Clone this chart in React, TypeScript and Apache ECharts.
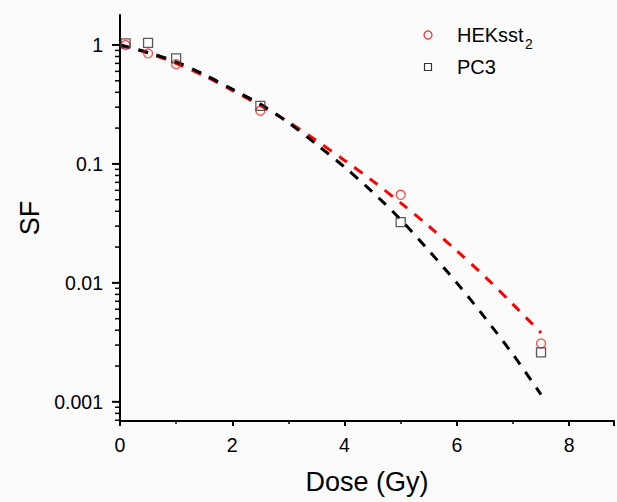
import React, { useEffect, useRef } from "react";
import * as echarts from "echarts";

// Measured survival fractions
const doseLevels = [0.1, 0.5, 1, 2.5, 5, 7.5];
const hekSF = [1.0, 0.85, 0.69, 0.28, 0.055, 0.0031];
const pc3SF = [1.03, 1.04, 0.77, 0.307, 0.0324, 0.0026];

// Fitted curves
const fitDose = [0, 0.5, 1, 1.5, 2, 2.5, 3, 3.5, 4, 4.5, 5, 5.5, 6, 6.5, 7, 7.5];
const hekFit = [1.0, 0.855, 0.7, 0.55, 0.415, 0.31, 0.225, 0.157, 0.107, 0.072, 0.047, 0.03, 0.0186, 0.0113, 0.0066, 0.0038];
const pc3Fit = [1.0, 0.865, 0.72, 0.565, 0.425, 0.318, 0.222, 0.146, 0.094, 0.058, 0.034, 0.0187, 0.01, 0.0051, 0.0025, 0.00115];

// Axis ticks
const xTickLabels = ["0", "2", "4", "6", "8"];
const yDecades = [0.001, 0.01, 0.1, 1];
const yTickLabels = ["0.001", "0.01", "0.1", "1"];
const yMinorMultipliers = [2, 3, 4, 5, 6, 7, 8, 9];

// Legend
const legendNames = ["HEKsst", "PC3"];
const legendSub = "2";

const FONT = 'Arial, "Liberation Sans", Helvetica, sans-serif';
const Y_MIN = 0.00069;
const Y_MAX = 1.786;

export default function App() {
  const ref = useRef<HTMLDivElement>(null);

  useEffect(() => {
    if (!ref.current) return;
    const chart = echarts.init(ref.current, null, { renderer: "svg" });

    const yTicks: { v: number; major: boolean }[] = [];
    yDecades.forEach((d) => yTicks.push({ v: d, major: true }));
    [0.0001, ...yDecades].forEach((d) =>
      yMinorMultipliers.forEach((m) => {
        const v = d * m;
        if (v >= Y_MIN && v <= Y_MAX) yTicks.push({ v, major: false });
      })
    );

    const labelFor = (v: number) => {
      const l = Math.log10(v);
      const r = Math.round(l);
      if (Math.abs(l - r) > 1e-6) return "";
      const idx = yDecades.findIndex((d) => Math.abs(Math.log10(d) - r) < 1e-6);
      return idx >= 0 ? yTickLabels[idx] : "";
    };

    chart.setOption({
      animation: false,
      backgroundColor: "#fbfbfb",
      textStyle: { fontFamily: FONT },
      grid: { left: 120, right: 3, top: 15, bottom: 81, containLabel: false },
      graphic: [
        {
          type: "circle",
          shape: { cx: 428, cy: 35, r: 4 },
          style: { fill: "none", stroke: "#ff2020", lineWidth: 1.2 },
        },
        {
          type: "rect",
          shape: { x: 424.5, y: 63.5, width: 7, height: 7 },
          style: { fill: "none", stroke: "#333333", lineWidth: 1.2 },
        },
        {
          type: "text",
          x: 457,
          y: 35,
          style: {
            text: legendNames[0],
            fontSize: 20,
            fontFamily: FONT,
            fill: "#000",
            verticalAlign: "middle",
            align: "left",
          },
        },
        {
          type: "text",
          x: 525,
          y: 44,
          style: {
            text: legendSub,
            fontSize: 14,
            fontFamily: FONT,
            fill: "#000",
            verticalAlign: "middle",
            align: "left",
          },
        },
        {
          type: "text",
          x: 457,
          y: 67,
          style: {
            text: legendNames[1],
            fontSize: 20,
            fontFamily: FONT,
            fill: "#000",
            verticalAlign: "middle",
            align: "left",
          },
        },
      ],
      xAxis: {
        type: "value",
        min: 0,
        max: 8.8,
        interval: 2,
        name: "Dose (Gy)",
        nameLocation: "middle",
        nameGap: 47,
        nameTextStyle: { fontSize: 27, color: "#000", fontFamily: FONT },
        axisLine: { show: true, onZero: false, lineStyle: { color: "#000", width: 2 } },
        axisTick: { show: true, length: 5, lineStyle: { color: "#000", width: 2 } },
        minorTick: { show: true, splitNumber: 2, length: 3, lineStyle: { color: "#000", width: 1.5 } },
        splitLine: { show: false },
        axisLabel: {
          fontSize: 19.5,
          color: "#000",
          margin: 14,
          fontFamily: FONT,
          showMaxLabel: false,
          formatter: (v: number) => {
            const i = Math.round(v / 2);
            return Math.abs(v - i * 2) < 1e-6 && i < xTickLabels.length ? xTickLabels[i] : "";
          },
        },
      },
      yAxis: {
        type: "log",
        logBase: 10,
        min: Y_MIN,
        max: Y_MAX,
        name: "SF",
        nameLocation: "middle",
        nameGap: 73,
        nameTextStyle: { fontSize: 27, color: "#000", fontFamily: FONT },
        axisLine: { show: true, onZero: false, lineStyle: { color: "#000", width: 2 } },
        axisTick: { show: false },
        splitLine: { show: false },
        axisLabel: {
          fontSize: 19.5,
          color: "#000",
          margin: 17,
          fontFamily: FONT,
          showMinLabel: false,
          showMaxLabel: false,
          formatter: (v: number) => labelFor(v),
        },
      },
      series: [
        {
          name: "ticks",
          type: "custom",
          silent: true,
          clip: false,
          z: 5,
          data: yTicks.map((t) => [0, t.v, t.major ? 1 : 0]),
          renderItem: (params: any, api: any) => {
            const p = api.coord([0, api.value(1)]);
            const major = api.value(2) === 1;
            const len = major ? 8 : 5;
            return {
              type: "line",
              shape: { x1: p[0] - len, y1: p[1], x2: p[0], y2: p[1] },
              style: { stroke: "#000", lineWidth: major ? 2 : 1.5 },
            };
          },
        },
        {
          name: "HEKsst2 fit",
          type: "line",
          data: fitDose.map((d, i) => [d, hekFit[i]]),
          smooth: 0.3,
          showSymbol: false,
          symbol: "none",
          lineStyle: { color: "#ff0000", width: 3, type: [10, 9] },
          z: 2,
        },
        {
          name: "PC3 fit",
          type: "line",
          data: fitDose.map((d, i) => [d, pc3Fit[i]]),
          smooth: 0.3,
          showSymbol: false,
          symbol: "none",
          lineStyle: { color: "#000000", width: 3, type: [10, 9] },
          z: 2,
        },
        {
          name: "HEKsst2",
          type: "scatter",
          data: doseLevels.map((d, i) => [d, hekSF[i]]),
          symbol: "circle",
          symbolSize: 9,
          itemStyle: { color: "rgba(255,255,255,0)", borderColor: "#ff2020", borderWidth: 1.3 },
          z: 3,
        },
        {
          name: "PC3",
          type: "scatter",
          data: doseLevels.map((d, i) => [d, pc3SF[i]]),
          symbol: "rect",
          symbolSize: 9,
          itemStyle: { color: "rgba(255,255,255,0)", borderColor: "#333333", borderWidth: 1.3 },
          z: 4,
        },
      ],
    });

    return () => chart.dispose();
  }, []);

  return (
    <div
      ref={ref}
      style={{ position: "fixed", left: 0, top: 0, width: 617, height: 502 }}
    />
  );
}
